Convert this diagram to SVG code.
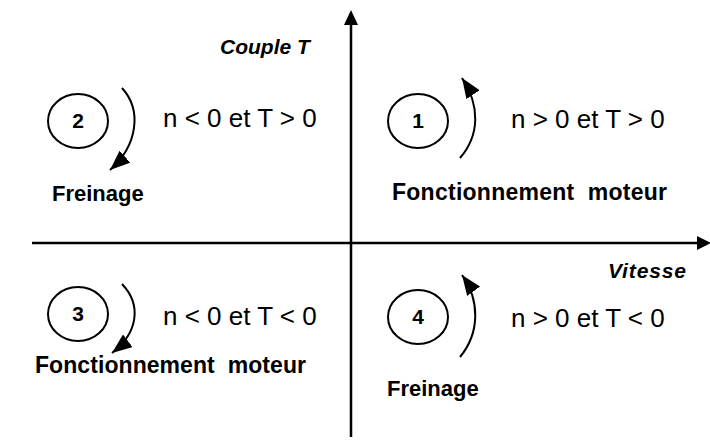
<svg xmlns="http://www.w3.org/2000/svg" width="710" height="441" viewBox="0 0 710 441">
<defs>
<style>
.ax{stroke:#000;stroke-width:2.5;fill:none}
.arc{stroke:#000;stroke-width:2;fill:none}
.c{stroke:#000;stroke-width:2;fill:#fff}
.num{font-family:"Liberation Sans",Arial,sans-serif;font-weight:bold;font-size:21px;text-anchor:middle}
.cond{font-family:"Liberation Sans",Arial,sans-serif;font-size:26px}
.lbl{font-family:"Liberation Sans",Arial,sans-serif;font-weight:bold;font-size:22px}
.lbl2{font-family:"Liberation Sans",Arial,sans-serif;font-weight:bold;font-size:23px}
.axl{font-family:"Liberation Sans",Arial,sans-serif;font-weight:bold;font-style:italic;font-size:21px}
</style>
<marker id="aa" viewBox="0 0 20 16" refX="20" refY="8" markerWidth="20" markerHeight="16" orient="auto" markerUnits="userSpaceOnUse">
<path d="M0,0 L20,8 L0,16 z" fill="#000"/>
</marker>
</defs>
<g id="connectors">
<line class="ax" x1="351" y1="437" x2="351" y2="24"/>
<polygon points="351,10 344,25 358,25" fill="#000"/>
<line class="ax" x1="32" y1="243" x2="697" y2="243"/>
<polygon points="711,243 697,236 697,250" fill="#000"/>
<path class="arc" d="M122,88 C142,110 138,145 110,170" marker-end="url(#aa)"/>
<path class="arc" d="M460,158 C480,135 480,105 462,78" marker-end="url(#aa)"/>
<path class="arc" d="M122,284 C142,305 138,333 112,353" marker-end="url(#aa)"/>
<path class="arc" d="M460,357 C480,333 480,300 462,275" marker-end="url(#aa)"/>
</g>
<g id="axis-labels">
<text class="axl" x="220" y="54">Couple T</text>
<text class="axl" x="608" y="278" textLength="78">Vitesse</text>
</g>
<g id="q1">
<ellipse class="c" cx="418" cy="121" rx="30" ry="27"/>
<text class="num" x="418" y="128">1</text>
<text class="cond" x="511" y="128">n &gt; 0 et T &gt; 0</text>
<text class="lbl2" x="392" y="200" xml:space="preserve" textLength="275">Fonctionnement  moteur</text>
</g>
<g id="q2">
<ellipse class="c" cx="78" cy="121" rx="30" ry="27"/>
<text class="num" x="78" y="128">2</text>
<text class="cond" x="163" y="127">n &lt; 0 et T &gt; 0</text>
<text class="lbl" x="52" y="201">Freinage</text>
</g>
<g id="q3">
<ellipse class="c" cx="78" cy="314" rx="30" ry="27"/>
<text class="num" x="78" y="321">3</text>
<text class="cond" x="163" y="325">n &lt; 0 et T &lt; 0</text>
<text class="lbl2" x="35" y="373" xml:space="preserve" textLength="271">Fonctionnement  moteur</text>
</g>
<g id="q4">
<ellipse class="c" cx="418" cy="317" rx="30" ry="27"/>
<text class="num" x="418" y="324">4</text>
<text class="cond" x="511" y="327">n &gt; 0 et T &lt; 0</text>
<text class="lbl" x="387" y="396">Freinage</text>
</g>
</svg>
